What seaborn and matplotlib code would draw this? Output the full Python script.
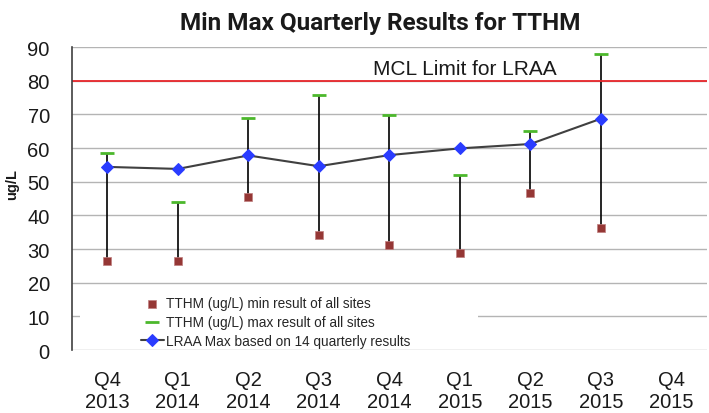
import matplotlib
matplotlib.use("Agg")
import matplotlib.pyplot as plt
import seaborn as sns
import pandas as pd
import numpy as np
from matplotlib.patches import Rectangle

categories = ["Q4\n2013", "Q1\n2014", "Q2\n2014", "Q3\n2014", "Q4\n2014",
              "Q1\n2015", "Q2\n2015", "Q3\n2015", "Q4\n2015"]
min_vals = [26.4, 26.4, 45.4, 34.2, 31.2, 28.8, 46.6, 36.2]
max_vals = [58.5, 44.0, 69.0, 75.9, 69.8, 52.0, 65.0, 88.0]
lraa_vals = [54.4, 53.8, 57.8, 54.6, 57.9, 59.9, 61.2, 68.7]
mcl_limit = 80
y_ticks = [0, 10, 20, 30, 40, 50, 60, 70, 80, 90]

sns.set_theme(style="white")
plt.rcParams['font.family'] = ['Liberation Sans', 'DejaVu Sans']

n = len(min_vals)
df = pd.DataFrame({"x": np.arange(n), "min": min_vals, "max": max_vals, "lraa": lraa_vals})

fig = plt.figure(figsize=(7.09, 4.14), dpi=100)
ax = fig.add_axes([0.1016, 0.152, 0.895, 0.732])

for y in y_ticks:
    ax.axhline(y, color="#b4b4b4", lw=1.0, zorder=0)

ax.vlines(df["x"], df["min"], df["max"], color="black", lw=1.2, zorder=1)

sns.scatterplot(data=df, x="x", y="min", marker="s", s=30, color="#953735",
                edgecolor="#c08080", linewidth=0.5, ax=ax, zorder=3,
                label="TTHM (ug/L) min result of all sites")
sns.scatterplot(data=df, x="x", y="max", marker="_", s=90, color="#4cb82c",
                linewidth=2, ax=ax, zorder=3,
                label="TTHM (ug/L) max result of all sites")
sns.lineplot(data=df, x="x", y="lraa", marker="D", markersize=6, color="#404040",
             markerfacecolor="#2a3cff", markeredgecolor="#2a3cff", lw=1.5, ax=ax, zorder=4,
             label="LRAA Max based on 14 quarterly results")

ax.axhline(mcl_limit, color="#e8262a", lw=1.3, zorder=2)
ax.text(5.07, mcl_limit + 0.9, "MCL Limit for LRAA", fontsize=15, ha="center", va="bottom",
        color="#1a1a1a")

# white legend area (covers gridlines behind legend like the original)
ax.add_patch(Rectangle((0.0126, 1.0), 0.627, 17.6, transform=ax.get_yaxis_transform(),
                       facecolor="white", edgecolor="none", zorder=0.5))

ax.set_xlim(-0.5, len(categories) - 0.5)
ax.set_ylim(0, 90)
ax.set_xticks(np.arange(len(categories)))
ax.set_xticklabels(categories, fontsize=14.5, color="#1a1a1a", linespacing=1.25)
ax.set_yticks(y_ticks)
ax.set_yticklabels([str(v) for v in y_ticks], fontsize=14.5, color="#1a1a1a")
ax.tick_params(axis="x", length=0, pad=14)
ax.tick_params(axis="y", length=0, pad=16)
ax.set_xlabel("")
ax.set_ylabel("ug/L", fontsize=10.5, fontweight="bold", color="#1a1a1a", labelpad=0)
ax.yaxis.set_label_coords(-0.084, 0.55)

for s in ["top", "right", "bottom"]:
    ax.spines[s].set_visible(False)
ax.spines["left"].set_color("#404040")
ax.spines["left"].set_linewidth(1.2)

leg = ax.legend(loc="lower left", bbox_to_anchor=(0.108, 0.008), frameon=False,
                fontsize=9.8, handlelength=1.7, handletextpad=0.2, labelspacing=0.35,
                borderpad=0.0, borderaxespad=0.0)
leg.set_zorder(5)

fig.suptitle("Min Max Quarterly Results for TTHM", x=0.536, y=0.972, fontsize=17.5,
             fontweight="bold", family=["Roboto", "DejaVu Sans"], color="#1a1a1a")

fig.savefig("out.png", dpi=100)
